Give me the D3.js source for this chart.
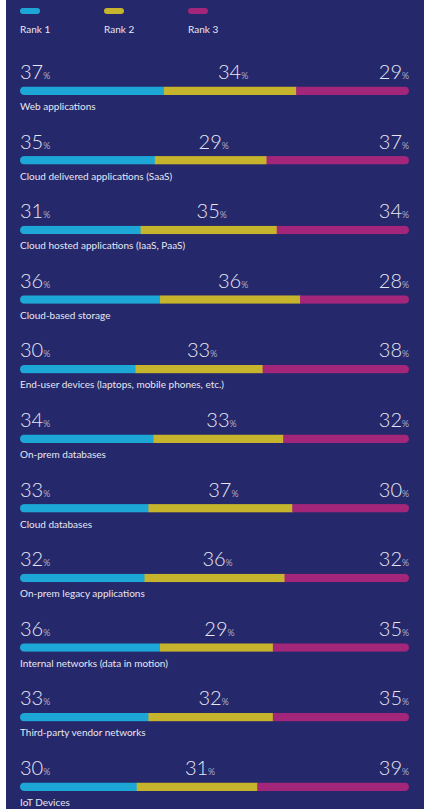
<!DOCTYPE html>
<html>
<head>
<meta charset="utf-8">
<script src="https://cdn.jsdelivr.net/npm/d3@7"></script>
<style>
  html, body { margin: 0; padding: 0; background: #fff; }
  svg { display: block; }
</style>
</head>
<body>
<div id="chart"></div>
<script>
const categories = [
  "Web applications",
  "Cloud delivered applications (SaaS)",
  "Cloud hosted applications (IaaS, PaaS)",
  "Cloud-based storage",
  "End-user devices (laptops, mobile phones, etc.)",
  "On-prem databases",
  "Cloud databases",
  "On-prem legacy applications",
  "Internal networks (data in motion)",
  "Third-party vendor networks",
  "IoT Devices"
];
const rank1 = [37, 35, 31, 36, 30, 34, 33, 32, 36, 33, 30];
const rank2 = [34, 29, 35, 36, 33, 33, 37, 36, 29, 32, 31];
const rank3 = [29, 37, 34, 28, 38, 32, 30, 32, 35, 35, 39];
const seriesNames = ["Rank 1", "Rank 2", "Rank 3"];
const colors = ["#1ca7d6", "#c6b42c", "#a4267a"];

const width = 424, height = 809;
const margin = { left: 20, right: 15 };

const svg = d3.select("#chart").append("svg")
    .attr("width", width)
    .attr("height", height);

svg.append("rect")
    .attr("x", 6).attr("y", 0)
    .attr("width", width - 6).attr("height", height)
    .attr("fill", "#25286a");

const textColor = "#e6e7f3";
const font = "Lato, 'Open Sans', sans-serif";

// legend
const legendX = d3.scalePoint().domain(seriesNames).range([20, 188]);
const legend = svg.append("g");
seriesNames.forEach((s, i) => {
  legend.append("rect")
      .attr("x", legendX(s)).attr("y", 8)
      .attr("width", 20).attr("height", 6)
      .attr("rx", 3)
      .attr("fill", colors[i]);
  legend.append("text")
      .attr("x", legendX(s)).attr("y", 33)
      .attr("fill", textColor)
      .style("font-family", font)
      .style("font-size", "10px")
      .text(s);
});

const y = d3.scaleBand()
    .domain(categories)
    .range([56, 56 + 69.6 * categories.length])
    .paddingInner(0);

const x = d3.scaleLinear().domain([0, 1]).range([margin.left, width - margin.right]);

const barH = 8.5;
const defs = svg.append("defs");

const rows = svg.selectAll("g.row")
  .data(categories)
  .join("g")
    .attr("class", "row")
    .attr("transform", d => `translate(0,${y(d) + y.bandwidth() / 2 - 34.8})`);

rows.each(function(cat, i) {
  const g = d3.select(this);
  const vals = [rank1[i], rank2[i], rank3[i]];
  const total = d3.sum(vals);
  let acc = 0;
  const segs = vals.map((v, k) => {
    const s = { k, v, x0: acc / total, x1: (acc + v) / total };
    acc += v;
    return s;
  });
  const barY = 30.5;

  defs.append("clipPath").attr("id", "clip" + i)
    .append("rect")
      .attr("x", x(0)).attr("y", barY)
      .attr("width", x(1) - x(0)).attr("height", barH)
      .attr("rx", barH / 2);

  g.append("g").attr("clip-path", `url(#clip${i})`)
    .selectAll("rect")
    .data(segs)
    .join("rect")
      .attr("x", d => x(d.x0))
      .attr("y", barY)
      .attr("width", d => x(d.x1) - x(d.x0) + (d.k < 2 ? 0.5 : 0))
      .attr("height", barH)
      .attr("fill", d => colors[d.k]);

  // value labels
  segs.forEach(d => {
    let px, anchor;
    if (d.k === 0) { px = x(0); anchor = "start"; }
    else if (d.k === 1) { px = (x(d.x0) + x(d.x1)) / 2 + 3; anchor = "middle"; }
    else { px = x(1); anchor = "end"; }
    const t = g.append("text")
        .attr("x", px).attr("y", 23)
        .attr("text-anchor", anchor)
        .attr("fill", textColor)
        .style("font-family", font)
        .style("font-weight", 300);
    t.append("tspan").style("font-size", "20px").text(d.v);
    t.append("tspan").style("font-size", "9px").text("%");
  });

  g.append("text")
      .attr("x", x(0)).attr("y", barY + barH + 15)
      .attr("fill", textColor)
      .style("font-family", font)
      .style("font-size", "10px")
      .text(cat);
});
</script>
</body>
</html>
